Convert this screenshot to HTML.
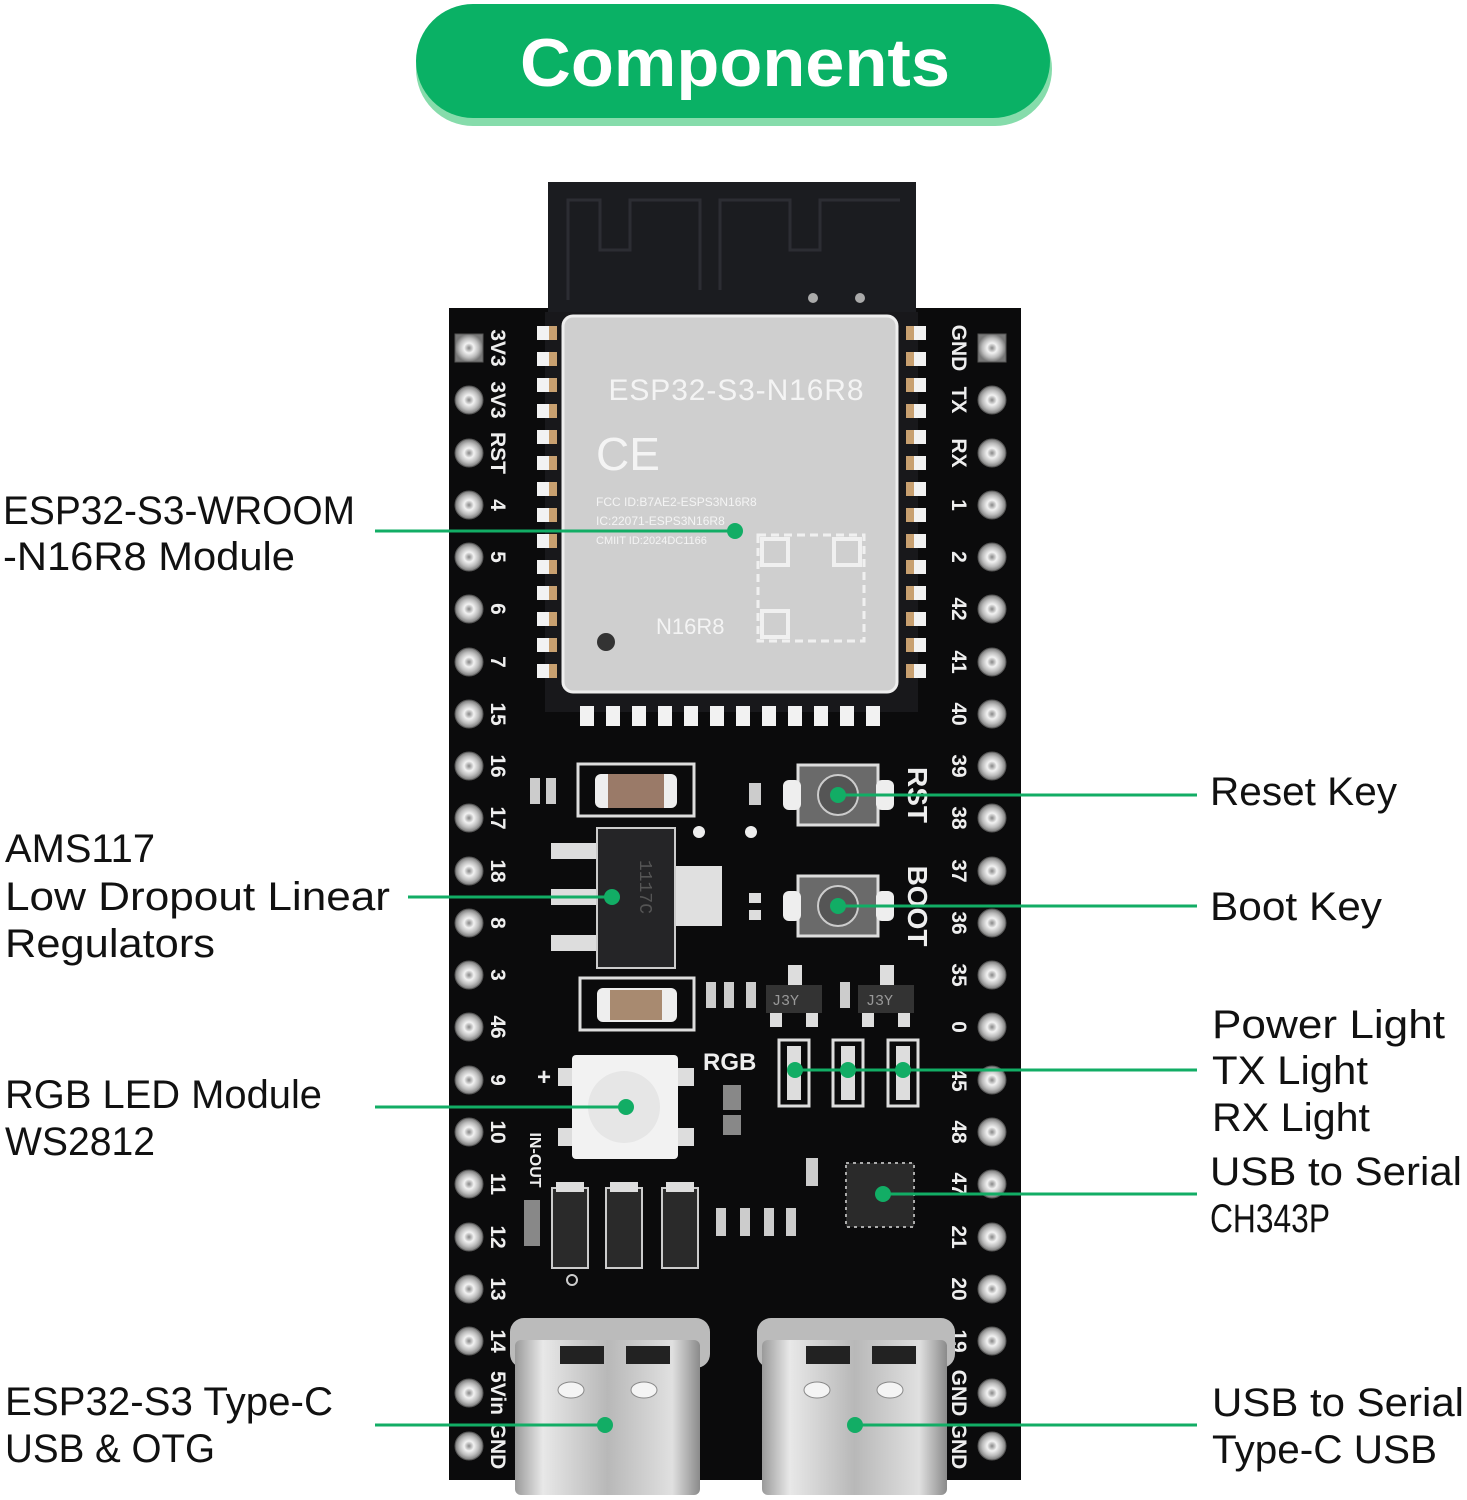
<!DOCTYPE html>
<html><head><meta charset="utf-8"><style>
html,body{margin:0;padding:0;background:#fff;width:1467px;height:1500px;overflow:hidden}
svg{display:block}
.lbl{font-family:"Liberation Sans",sans-serif;font-size:40px;fill:#111}
.pl{font-family:"Liberation Sans",sans-serif;font-size:21px;font-weight:bold;fill:#eee}
</style></head><body>
<svg width="1467" height="1500" viewBox="0 0 1467 1500" xmlns="http://www.w3.org/2000/svg">
<defs>
<linearGradient id="met" x1="0" x2="1"><stop offset="0" stop-color="#9a9a9a"/><stop offset=".15" stop-color="#e8e8e8"/><stop offset=".5" stop-color="#b8b8b8"/><stop offset=".85" stop-color="#e0e0e0"/><stop offset="1" stop-color="#8a8a8a"/></linearGradient>
<radialGradient id="pin"><stop offset="0" stop-color="#888"/><stop offset=".35" stop-color="#f2f2f2"/><stop offset=".7" stop-color="#bbb"/><stop offset="1" stop-color="#777"/></radialGradient>
</defs>
<!-- header -->
<rect x="416" y="12" width="636" height="114" rx="57" fill="#86dcab"/>
<rect x="416" y="4" width="634" height="114" rx="57" fill="#0ab165"/>
<text x="735" y="86" text-anchor="middle" font-family="Liberation Sans,sans-serif" font-weight="bold" font-size="68" fill="#fff" textLength="430" lengthAdjust="spacingAndGlyphs">Components</text>

<!-- board -->
<rect x="449" y="308" width="572" height="1172" fill="#0b0b0c"/>
<!-- antenna -->
<rect x="548" y="182" width="368" height="140" fill="#1b1c20"/>
<path d="M568 300 V200 H600 V250 H630 V200 H700 V290 M720 290 V200 H790 V250 H820 V200 H900" stroke="#2c2d33" stroke-width="3" fill="none"/>
<circle cx="813" cy="298" r="5" fill="#aaa"/><circle cx="860" cy="298" r="5" fill="#aaa"/>
<!-- module pcb -->
<rect x="545" y="312" width="373" height="400" fill="#18181b"/>
<g fill="#c8a070">
<rect x="545" y="326" width="12" height="14"/><rect x="545" y="352" width="12" height="14"/><rect x="545" y="378" width="12" height="14"/><rect x="545" y="404" width="12" height="14"/><rect x="545" y="430" width="12" height="14"/><rect x="545" y="456" width="12" height="14"/><rect x="545" y="482" width="12" height="14"/><rect x="545" y="508" width="12" height="14"/><rect x="545" y="534" width="12" height="14"/><rect x="545" y="560" width="12" height="14"/><rect x="545" y="586" width="12" height="14"/><rect x="545" y="612" width="12" height="14"/><rect x="545" y="638" width="12" height="14"/><rect x="545" y="664" width="12" height="14"/>
<rect x="906" y="326" width="12" height="14"/><rect x="906" y="352" width="12" height="14"/><rect x="906" y="378" width="12" height="14"/><rect x="906" y="404" width="12" height="14"/><rect x="906" y="430" width="12" height="14"/><rect x="906" y="456" width="12" height="14"/><rect x="906" y="482" width="12" height="14"/><rect x="906" y="508" width="12" height="14"/><rect x="906" y="534" width="12" height="14"/><rect x="906" y="560" width="12" height="14"/><rect x="906" y="586" width="12" height="14"/><rect x="906" y="612" width="12" height="14"/><rect x="906" y="638" width="12" height="14"/><rect x="906" y="664" width="12" height="14"/>
</g>
<g fill="#f2f2f2">
<rect x="537" y="326" width="12" height="14"/><rect x="537" y="352" width="12" height="14"/><rect x="537" y="378" width="12" height="14"/><rect x="537" y="404" width="12" height="14"/><rect x="537" y="430" width="12" height="14"/><rect x="537" y="456" width="12" height="14"/><rect x="537" y="482" width="12" height="14"/><rect x="537" y="508" width="12" height="14"/><rect x="537" y="534" width="12" height="14"/><rect x="537" y="560" width="12" height="14"/><rect x="537" y="586" width="12" height="14"/><rect x="537" y="612" width="12" height="14"/><rect x="537" y="638" width="12" height="14"/><rect x="537" y="664" width="12" height="14"/>
<rect x="914" y="326" width="12" height="14"/><rect x="914" y="352" width="12" height="14"/><rect x="914" y="378" width="12" height="14"/><rect x="914" y="404" width="12" height="14"/><rect x="914" y="430" width="12" height="14"/><rect x="914" y="456" width="12" height="14"/><rect x="914" y="482" width="12" height="14"/><rect x="914" y="508" width="12" height="14"/><rect x="914" y="534" width="12" height="14"/><rect x="914" y="560" width="12" height="14"/><rect x="914" y="586" width="12" height="14"/><rect x="914" y="612" width="12" height="14"/><rect x="914" y="638" width="12" height="14"/><rect x="914" y="664" width="12" height="14"/>
<rect x="580" y="706" width="14" height="20"/><rect x="606" y="706" width="14" height="20"/><rect x="632" y="706" width="14" height="20"/><rect x="658" y="706" width="14" height="20"/><rect x="684" y="706" width="14" height="20"/><rect x="710" y="706" width="14" height="20"/><rect x="736" y="706" width="14" height="20"/><rect x="762" y="706" width="14" height="20"/><rect x="788" y="706" width="14" height="20"/><rect x="814" y="706" width="14" height="20"/><rect x="840" y="706" width="14" height="20"/><rect x="866" y="706" width="14" height="20"/>
</g>
<!-- shield -->
<rect x="563" y="316" width="334" height="376" rx="10" fill="#cfcfcf" stroke="#eee" stroke-width="3"/>
<text x="736" y="400" text-anchor="middle" font-family="Liberation Sans,sans-serif" font-size="30" fill="#f4f4f4" textLength="255">ESP32-S3-N16R8</text>
<text x="596" y="470" font-family="Liberation Sans,sans-serif" font-size="46" fill="#f4f4f4">CE</text>
<text x="596" y="506" font-family="Liberation Sans,sans-serif" font-size="12" fill="#f4f4f4">FCC ID:B7AE2-ESPS3N16R8</text>
<text x="596" y="525" font-family="Liberation Sans,sans-serif" font-size="12" fill="#f4f4f4">IC:22071-ESPS3N16R8</text>
<text x="596" y="544" font-family="Liberation Sans,sans-serif" font-size="11" fill="#f4f4f4">CMIIT ID:2024DC1166</text>
<rect x="758" y="535" width="106" height="106" fill="none" stroke="#f0f0f0" stroke-width="3" stroke-dasharray="8 5"/>
<rect x="762" y="539" width="26" height="26" fill="none" stroke="#f0f0f0" stroke-width="4"/>
<rect x="834" y="539" width="26" height="26" fill="none" stroke="#f0f0f0" stroke-width="4"/>
<rect x="762" y="611" width="26" height="26" fill="none" stroke="#f0f0f0" stroke-width="4"/>
<text x="656" y="634" font-family="Liberation Sans,sans-serif" font-size="22" fill="#f4f4f4">N16R8</text>
<circle cx="606" cy="642" r="9" fill="#333"/>

<!-- pins -->
<g fill="url(#pin)" stroke="#555" stroke-width="1">
<rect x="455" y="334" width="28" height="28"/>
<circle cx="469" cy="400" r="14"/><circle cx="469" cy="453" r="14"/><circle cx="469" cy="505" r="14"/><circle cx="469" cy="557" r="14"/><circle cx="469" cy="609" r="14"/><circle cx="469" cy="662" r="14"/><circle cx="469" cy="714" r="14"/><circle cx="469" cy="766" r="14"/><circle cx="469" cy="818" r="14"/><circle cx="469" cy="871" r="14"/><circle cx="469" cy="923" r="14"/><circle cx="469" cy="975" r="14"/><circle cx="469" cy="1027" r="14"/><circle cx="469" cy="1080" r="14"/><circle cx="469" cy="1132" r="14"/><circle cx="469" cy="1184" r="14"/><circle cx="469" cy="1237" r="14"/><circle cx="469" cy="1289" r="14"/><circle cx="469" cy="1341" r="14"/><circle cx="469" cy="1393" r="14"/><circle cx="469" cy="1446" r="14"/>
<rect x="978" y="334" width="28" height="28"/>
<circle cx="992" cy="400" r="14"/><circle cx="992" cy="453" r="14"/><circle cx="992" cy="505" r="14"/><circle cx="992" cy="557" r="14"/><circle cx="992" cy="609" r="14"/><circle cx="992" cy="662" r="14"/><circle cx="992" cy="714" r="14"/><circle cx="992" cy="766" r="14"/><circle cx="992" cy="818" r="14"/><circle cx="992" cy="871" r="14"/><circle cx="992" cy="923" r="14"/><circle cx="992" cy="975" r="14"/><circle cx="992" cy="1027" r="14"/><circle cx="992" cy="1080" r="14"/><circle cx="992" cy="1132" r="14"/><circle cx="992" cy="1184" r="14"/><circle cx="992" cy="1237" r="14"/><circle cx="992" cy="1289" r="14"/><circle cx="992" cy="1341" r="14"/><circle cx="992" cy="1393" r="14"/><circle cx="992" cy="1446" r="14"/>
</g>
<g class="pl" text-anchor="middle">
<text transform="translate(491,348) rotate(90)">3V3</text><text transform="translate(491,400) rotate(90)">3V3</text><text transform="translate(491,453) rotate(90)">RST</text><text transform="translate(491,505) rotate(90)">4</text><text transform="translate(491,557) rotate(90)">5</text><text transform="translate(491,609) rotate(90)">6</text><text transform="translate(491,662) rotate(90)">7</text><text transform="translate(491,714) rotate(90)">15</text><text transform="translate(491,766) rotate(90)">16</text><text transform="translate(491,818) rotate(90)">17</text><text transform="translate(491,871) rotate(90)">18</text><text transform="translate(491,923) rotate(90)">8</text><text transform="translate(491,975) rotate(90)">3</text><text transform="translate(491,1027) rotate(90)">46</text><text transform="translate(491,1080) rotate(90)">9</text><text transform="translate(491,1132) rotate(90)">10</text><text transform="translate(491,1184) rotate(90)">11</text><text transform="translate(491,1237) rotate(90)">12</text><text transform="translate(491,1289) rotate(90)">13</text><text transform="translate(491,1341) rotate(90)">14</text><text transform="translate(491,1393) rotate(90)">5Vin</text><text transform="translate(491,1446) rotate(90)">GND</text>
<text transform="translate(952,348) rotate(90)">GND</text><text transform="translate(952,400) rotate(90)">TX</text><text transform="translate(952,453) rotate(90)">RX</text><text transform="translate(952,505) rotate(90)">1</text><text transform="translate(952,557) rotate(90)">2</text><text transform="translate(952,609) rotate(90)">42</text><text transform="translate(952,662) rotate(90)">41</text><text transform="translate(952,714) rotate(90)">40</text><text transform="translate(952,766) rotate(90)">39</text><text transform="translate(952,818) rotate(90)">38</text><text transform="translate(952,871) rotate(90)">37</text><text transform="translate(952,923) rotate(90)">36</text><text transform="translate(952,975) rotate(90)">35</text><text transform="translate(952,1027) rotate(90)">0</text><text transform="translate(952,1080) rotate(90)">45</text><text transform="translate(952,1132) rotate(90)">48</text><text transform="translate(952,1184) rotate(90)">47</text><text transform="translate(952,1237) rotate(90)">21</text><text transform="translate(952,1289) rotate(90)">20</text><text transform="translate(952,1341) rotate(90)">19</text><text transform="translate(952,1393) rotate(90)">GND</text><text transform="translate(952,1446) rotate(90)">GND</text>
<text transform="translate(908,795) rotate(90)" font-size="28">RST</text>
<text transform="translate(908,906) rotate(90)" font-size="28">BOOT</text>
<text transform="translate(530,1160) rotate(90)" font-size="16">IN-OUT</text>
</g>
<text x="703" y="1070" font-family="Liberation Sans,sans-serif" font-weight="bold" font-size="24" fill="#eee">RGB</text>
<text x="537" y="1085" font-family="Liberation Sans,sans-serif" font-weight="bold" font-size="24" fill="#eee">+</text>

<!-- components -->
<rect x="578" y="764" width="116" height="52" fill="none" stroke="#ddd" stroke-width="3"/>
<rect x="595" y="774" width="82" height="34" rx="6" fill="#eee"/><rect x="608" y="774" width="56" height="34" fill="#9a7a68"/>
<rect x="530" y="778" width="10" height="26" fill="#ccc"/><rect x="546" y="778" width="10" height="26" fill="#ccc"/>
<rect x="749" y="783" width="12" height="22" fill="#ccc"/>
<rect x="580" y="978" width="114" height="52" fill="none" stroke="#ddd" stroke-width="3"/>
<rect x="597" y="988" width="80" height="34" rx="6" fill="#eee"/><rect x="610" y="990" width="52" height="30" fill="#a88a70"/>
<rect x="551" y="843" width="45" height="16" fill="#ddd"/><rect x="551" y="889" width="45" height="16" fill="#ddd"/><rect x="551" y="935" width="45" height="16" fill="#ddd"/>
<rect x="670" y="866" width="52" height="60" fill="#e0e0e0"/>
<rect x="597" y="828" width="78" height="140" fill="#252527" stroke="#ccc" stroke-width="2"/>
<text transform="translate(640,860) rotate(90)" font-family="Liberation Mono,monospace" font-size="18" fill="#555">1117C</text>
<circle cx="699" cy="832" r="6" fill="#eee"/><circle cx="751" cy="832" r="6" fill="#eee"/>
<rect x="749" y="893" width="12" height="10" fill="#ddd"/><rect x="749" y="910" width="12" height="10" fill="#ddd"/>
<rect x="798" y="765" width="80" height="60" fill="#6a6a6a" stroke="#ddd" stroke-width="3"/>
<rect x="783" y="780" width="18" height="30" rx="6" fill="#eee"/><rect x="876" y="780" width="18" height="30" rx="6" fill="#eee"/>
<circle cx="838" cy="795" r="20" fill="#555" stroke="#ccc" stroke-width="2"/>
<rect x="798" y="876" width="80" height="60" fill="#6a6a6a" stroke="#ddd" stroke-width="3"/>
<rect x="783" y="891" width="18" height="30" rx="6" fill="#eee"/><rect x="876" y="891" width="18" height="30" rx="6" fill="#eee"/>
<circle cx="838" cy="906" r="20" fill="#555" stroke="#ccc" stroke-width="2"/>
<rect x="766" y="985" width="56" height="28" fill="#333"/><text x="772" y="1005" font-family="Liberation Mono,monospace" font-size="15" fill="#999">J3Y</text>
<rect x="788" y="965" width="14" height="20" fill="#ddd"/><rect x="770" y="1013" width="12" height="14" fill="#ddd"/><rect x="806" y="1013" width="12" height="14" fill="#ddd"/>
<rect x="858" y="985" width="56" height="28" fill="#333"/><text x="866" y="1005" font-family="Liberation Mono,monospace" font-size="15" fill="#999">J3Y</text>
<rect x="880" y="965" width="14" height="20" fill="#ddd"/><rect x="862" y="1013" width="12" height="14" fill="#ddd"/><rect x="898" y="1013" width="12" height="14" fill="#ddd"/>
<rect x="706" y="982" width="10" height="26" fill="#ccc"/><rect x="724" y="982" width="10" height="26" fill="#ccc"/><rect x="746" y="982" width="10" height="26" fill="#ccc"/><rect x="840" y="982" width="10" height="26" fill="#ccc"/>
<rect x="779" y="1040" width="30" height="66" fill="none" stroke="#ddd" stroke-width="3"/><rect x="787" y="1046" width="14" height="54" fill="#ddd"/>
<rect x="833" y="1040" width="30" height="66" fill="none" stroke="#ddd" stroke-width="3"/><rect x="841" y="1046" width="14" height="54" fill="#ddd"/>
<rect x="888" y="1040" width="30" height="66" fill="none" stroke="#ddd" stroke-width="3"/><rect x="896" y="1046" width="14" height="54" fill="#ddd"/>
<rect x="723" y="1085" width="18" height="25" fill="#888"/><rect x="723" y="1115" width="18" height="20" fill="#888"/>
<rect x="558" y="1068" width="18" height="18" fill="#ddd"/><rect x="558" y="1128" width="18" height="18" fill="#ddd"/><rect x="676" y="1068" width="18" height="18" fill="#ddd"/><rect x="676" y="1128" width="18" height="18" fill="#ddd"/>
<rect x="572" y="1055" width="106" height="104" rx="4" fill="#f2f2f2"/>
<circle cx="624" cy="1107" r="36" fill="#e6e6e6"/>
<rect x="552" y="1188" width="36" height="80" fill="#2a2a2a" stroke="#ccc" stroke-width="2"/><rect x="556" y="1182" width="28" height="10" fill="#ddd"/>
<rect x="606" y="1188" width="36" height="80" fill="#2a2a2a" stroke="#ccc" stroke-width="2"/><rect x="610" y="1182" width="28" height="10" fill="#ddd"/>
<rect x="662" y="1188" width="36" height="80" fill="#2a2a2a" stroke="#ccc" stroke-width="2"/><rect x="666" y="1182" width="28" height="10" fill="#ddd"/>
<rect x="524" y="1200" width="16" height="46" fill="#888"/>
<rect x="716" y="1208" width="10" height="28" fill="#ccc"/><rect x="740" y="1208" width="10" height="28" fill="#ccc"/><rect x="764" y="1208" width="10" height="28" fill="#ccc"/><rect x="786" y="1208" width="10" height="28" fill="#ccc"/>
<rect x="806" y="1158" width="12" height="28" fill="#ccc"/>
<rect x="846" y="1163" width="68" height="64" fill="#2a2a2a" stroke="#aaa" stroke-width="2" stroke-dasharray="3 4"/>
<circle cx="572" cy="1280" r="5" fill="none" stroke="#ccc" stroke-width="2"/>
<!-- USB-C -->
<rect x="510" y="1318" width="200" height="50" rx="14" fill="#bbb"/>
<rect x="515" y="1340" width="185" height="155" rx="6" fill="url(#met)"/>
<rect x="560" y="1346" width="44" height="18" fill="#222"/><rect x="626" y="1346" width="44" height="18" fill="#222"/>
<ellipse cx="571" cy="1390" rx="13" ry="8" fill="#f4f4f4" stroke="#888"/><ellipse cx="644" cy="1390" rx="13" ry="8" fill="#f4f4f4" stroke="#888"/>
<rect x="757" y="1318" width="198" height="50" rx="14" fill="#bbb"/>
<rect x="762" y="1340" width="185" height="155" rx="6" fill="url(#met)"/>
<rect x="806" y="1346" width="44" height="18" fill="#222"/><rect x="872" y="1346" width="44" height="18" fill="#222"/>
<ellipse cx="817" cy="1390" rx="13" ry="8" fill="#f4f4f4" stroke="#888"/><ellipse cx="890" cy="1390" rx="13" ry="8" fill="#f4f4f4" stroke="#888"/>

<!-- leader lines -->
<g stroke="#12ad65" stroke-width="3">
<line x1="375" y1="531" x2="735" y2="531"/>
<line x1="838" y1="795" x2="1197" y2="795"/>
<line x1="838" y1="906" x2="1197" y2="906"/>
<line x1="408" y1="897" x2="612" y2="897"/>
<line x1="795" y1="1070" x2="1197" y2="1070"/>
<line x1="375" y1="1107" x2="626" y2="1107"/>
<line x1="883" y1="1194" x2="1197" y2="1194"/>
<line x1="375" y1="1425" x2="605" y2="1425"/>
<line x1="855" y1="1425" x2="1197" y2="1425"/>
</g>
<g fill="#12ad65">
<circle cx="735" cy="531" r="8"/><circle cx="838" cy="795" r="8"/><circle cx="838" cy="906" r="8"/><circle cx="612" cy="897" r="8"/>
<circle cx="795" cy="1070" r="8"/><circle cx="848" cy="1070" r="8"/><circle cx="903" cy="1070" r="8"/>
<circle cx="626" cy="1107" r="8"/><circle cx="883" cy="1194" r="8"/><circle cx="605" cy="1425" r="8"/><circle cx="855" cy="1425" r="8"/>
</g>

<!-- labels -->
<g class="lbl">
<text x="3" y="524" textLength="352" lengthAdjust="spacingAndGlyphs">ESP32-S3-WROOM</text>
<text x="3" y="570" textLength="292" lengthAdjust="spacingAndGlyphs">-N16R8 Module</text>
<text x="5" y="862" textLength="150" lengthAdjust="spacingAndGlyphs">AMS117</text>
<text x="5" y="910" textLength="385" lengthAdjust="spacingAndGlyphs">Low Dropout Linear</text>
<text x="5" y="957" textLength="210" lengthAdjust="spacingAndGlyphs">Regulators</text>
<text x="5" y="1108" textLength="317" lengthAdjust="spacingAndGlyphs">RGB LED Module</text>
<text x="5" y="1155" textLength="150" lengthAdjust="spacingAndGlyphs">WS2812</text>
<text x="5" y="1415" textLength="328" lengthAdjust="spacingAndGlyphs">ESP32-S3 Type-C</text>
<text x="5" y="1462" textLength="210" lengthAdjust="spacingAndGlyphs">USB &amp; OTG</text>
<text x="1210" y="805" textLength="187" lengthAdjust="spacingAndGlyphs">Reset Key</text>
<text x="1210" y="920" textLength="172" lengthAdjust="spacingAndGlyphs">Boot Key</text>
<text x="1212" y="1038" textLength="233" lengthAdjust="spacingAndGlyphs">Power Light</text>
<text x="1212" y="1084" textLength="156" lengthAdjust="spacingAndGlyphs">TX Light</text>
<text x="1212" y="1131" textLength="158" lengthAdjust="spacingAndGlyphs">RX Light</text>
<text x="1210" y="1185" textLength="252" lengthAdjust="spacingAndGlyphs">USB to Serial</text>
<text x="1210" y="1232" textLength="120" lengthAdjust="spacingAndGlyphs">CH343P</text>
<text x="1212" y="1416" textLength="252" lengthAdjust="spacingAndGlyphs">USB to Serial</text>
<text x="1212" y="1463" textLength="225" lengthAdjust="spacingAndGlyphs">Type-C USB</text>
</g>
</svg>
</body></html>
